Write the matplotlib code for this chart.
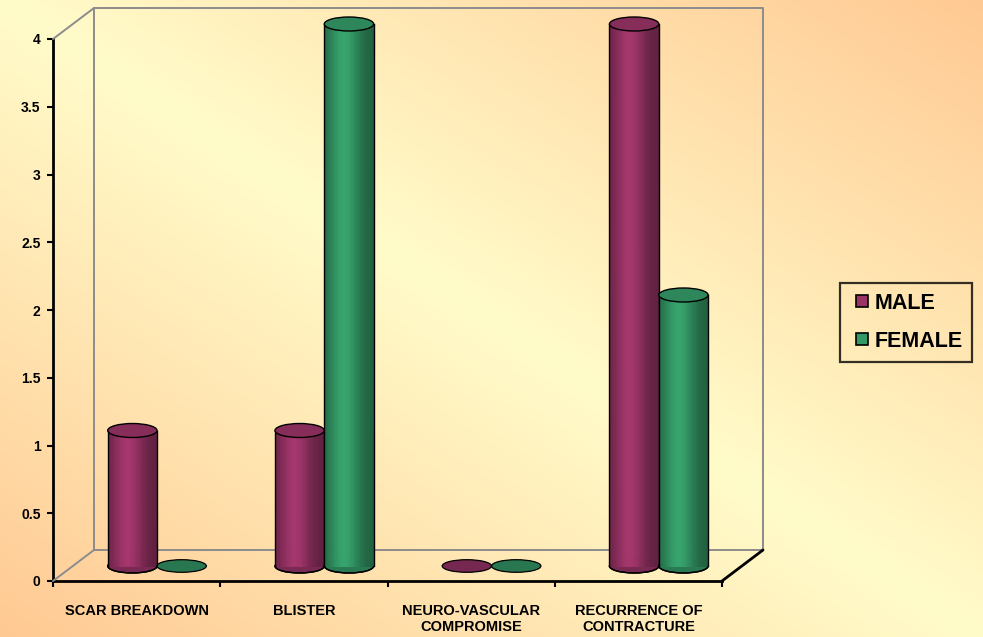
import numpy as np
import matplotlib
matplotlib.use('Agg')
import matplotlib.pyplot as plt
from matplotlib.patches import Ellipse, Arc, ConnectionPatch
from matplotlib.lines import Line2D
from matplotlib.transforms import offset_copy
from matplotlib.colors import to_rgb

plt.rcParams['font.family'] = ['Liberation Sans', 'DejaVu Sans']
plt.rcParams['font.weight'] = 'bold'

# ---------------- data ----------------
categories = ['SCAR BREAKDOWN', 'BLISTER', 'NEURO-VASCULAR\nCOMPROMISE',
              'RECURRENCE OF\nCONTRACTURE']
male = [1, 1, 0, 4]
female = [0, 4, 0, 2]
series_names = ['MALE', 'FEMALE']
y_ticks = [0, 0.5, 1, 1.5, 2, 2.5, 3, 3.5, 4]
y_tick_labels = ['0', '0.5', '1', '1.5', '2', '2.5', '3', '3.5', '4']

# ---------------- style ----------------
W, H = 983, 637
male_color = '#993366'
female_color = '#339966'
bg_light = '#FFFCCA'
bg_dark = '#FFC993'
wall_color = '#8C8C8C'

fig = plt.figure(figsize=(W / 100, H / 100), dpi=100)

# background gradient (diagonal, light band from top-left to bottom-right)
bg = fig.add_axes([0, 0, 1, 1], zorder=-5)
u = np.linspace(0, 1, W)[None, :]
v = np.linspace(1, 0, H)[:, None]
d = np.clip(np.abs(u + v - 1), 0, 1)
c0 = np.array(to_rgb(bg_light))
c1 = np.array(to_rgb(bg_dark))
img = c0 + (c1 - c0) * d[..., None]
bg.imshow(img, aspect='auto', extent=(0, 1, 0, 1), interpolation='bilinear')
bg.axis('off')

# front plane axes
ax = fig.add_axes([53 / W, 56 / H, 669 / W, 542 / H])
ax.set_xlim(0, 4)
ax.set_ylim(0, 4)
ax.patch.set_alpha(0)
for s in ['top', 'right']:
    ax.spines[s].set_visible(False)
for s in ['left', 'bottom']:
    ax.spines[s].set_color('black')
    ax.spines[s].set_linewidth(2)

ax.set_yticks(y_ticks)
ax.set_yticklabels(y_tick_labels, fontsize=10, fontweight='bold')
ax.tick_params(axis='y', direction='out', length=4, width=1.5, pad=5)
ax.set_xticks([0, 1, 2, 3, 4])
ax.set_xticklabels([])
ax.tick_params(axis='x', which='major', direction='out', length=4, width=1.5)
ax.set_xticks([i + 0.5 for i in range(len(categories))], minor=True)
ax.set_xticklabels(categories, minor=True, fontsize=10.5, fontweight='bold',
                   linespacing=1.2)
ax.tick_params(axis='x', which='minor', length=0, pad=16.5)

# depth transforms (pixels)
mid = offset_copy(ax.transData, fig=fig, x=20, y=15, units='dots')
back = offset_copy(ax.transData, fig=fig, x=41, y=31, units='dots')

# back wall and floor
ax.add_line(Line2D([0, 0, 4, 4], [0, 4, 4, 0], color=wall_color, lw=1.4,
                   transform=back, clip_on=False, zorder=1))
ax.add_line(Line2D([0, 4], [0, 0], color=wall_color, lw=1.4,
                   transform=back, clip_on=False, zorder=1))
for (xa, ya, col) in [(0, 0, wall_color), (0, 4, wall_color), (4, 0, 'black')]:
    cp = ConnectionPatch(xyA=(xa, ya), coordsA=ax.transData,
                         xyB=(xa, ya), coordsB=back,
                         color=col, lw=1.4 if col != 'black' else 2,
                         zorder=1)
    cp.set_clip_on(False)
    fig.add_artist(cp)

# cylinder helper
px_per_unit_y = 542 / 4
ell_h = 14 / px_per_unit_y
bar_w = 0.295
offsets = [0.355, 0.65]


def profile(n):
    t = (np.arange(n) + 0.5) / n
    return 0.62 + 0.45 * np.exp(-((t - 0.4) / 0.32) ** 2)


def cylinder(xc, val, base, z):
    rgb = np.array(to_rgb(base))
    x0 = xc - bar_w / 2
    if val <= 0:
        e = Ellipse((xc, 0), bar_w, ell_h * 0.9, facecolor=rgb * 0.78,
                    edgecolor='black', lw=0.9, transform=mid,
                    clip_on=False, zorder=z)
        ax.add_patch(e)
        return
    # bottom ellipse
    e = Ellipse((xc, 0), bar_w, ell_h, facecolor=rgb * 0.8,
                edgecolor='black', lw=1.0, transform=mid,
                clip_on=False, zorder=z)
    ax.add_patch(e)
    n = 40
    f = profile(n)
    cols = np.clip(rgb[None, :] * f[:, None], 0, 1)
    xs = x0 + (np.arange(n) + 0.5) * bar_w / n
    ax.bar(xs, [val] * n, width=bar_w / n, bottom=0, color=cols,
           edgecolor=cols, linewidth=0.6, transform=mid, clip_on=False,
           zorder=z + 0.1)
    ax.add_patch(Arc((xc, 0), bar_w, ell_h, theta1=180, theta2=360,
                     color='black', lw=1.0, transform=mid, clip_on=False,
                     zorder=z + 0.2))
    for xe in (x0, x0 + bar_w):
        ax.add_line(Line2D([xe, xe], [0, val], color='black', lw=1.0,
                           transform=mid, clip_on=False, zorder=z + 0.2))
    top = Ellipse((xc, val), bar_w, ell_h, facecolor=np.clip(rgb * 0.88, 0, 1),
                  edgecolor='black', lw=1.0, transform=mid,
                  clip_on=False, zorder=z + 0.3)
    ax.add_patch(top)


z = 3
for i in range(len(categories)):
    for vals, col, off in [(male, male_color, offsets[0]),
                           (female, female_color, offsets[1])]:
        cylinder(i + off, vals[i], col, z)
        z += 1

# legend
handles = [Line2D([], [], marker='s', linestyle='none', markersize=8.5,
                  markerfacecolor=c, markeredgecolor='black',
                  markeredgewidth=1.2)
           for c in (male_color, female_color)]
leg = fig.legend(handles, series_names, loc='upper left',
                 bbox_to_anchor=(840 / W, 1 - 283 / H), borderaxespad=0,
                 prop={'size': 15.5, 'weight': 'bold'}, frameon=True,
                 fancybox=False, edgecolor='black', facecolor='none',
                 handlelength=1.1, handletextpad=0.05, borderpad=0.45,
                 labelspacing=0.8)
leg.get_frame().set_linewidth(1.6)

fig.savefig('out.png', dpi=100)
